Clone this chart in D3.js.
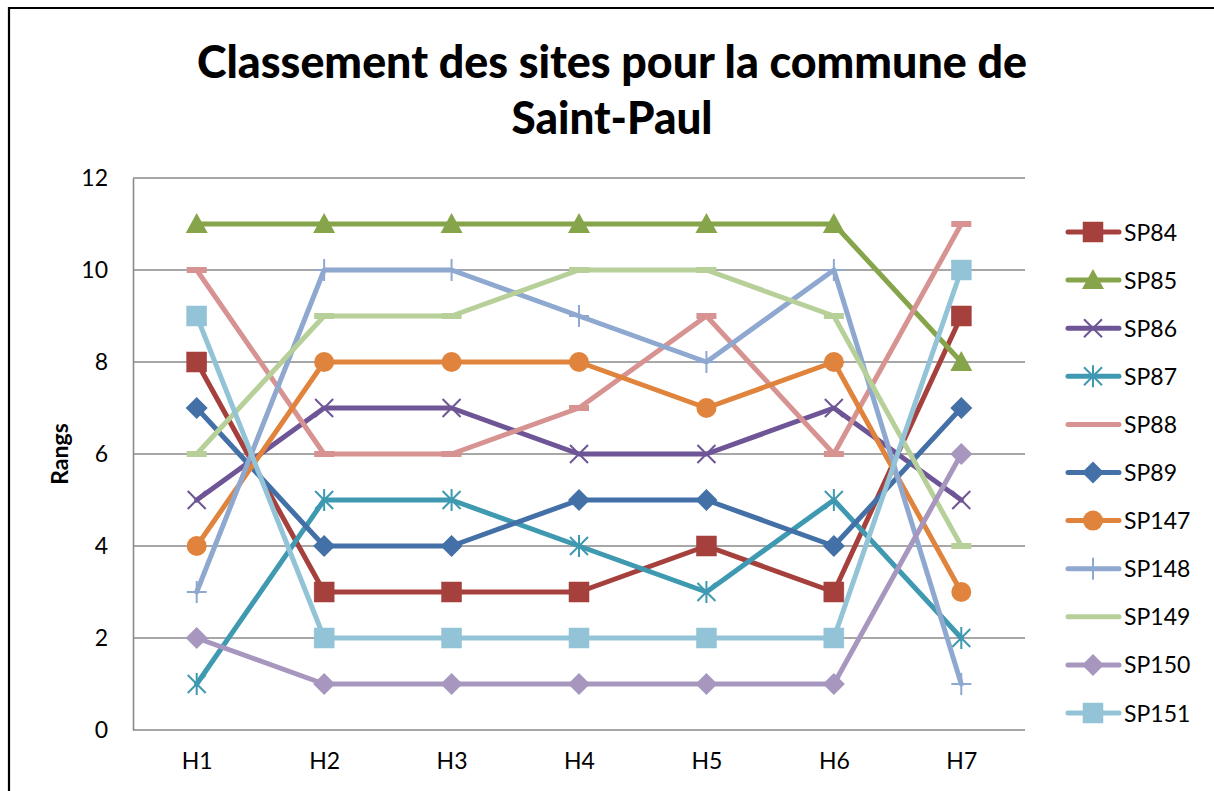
<!DOCTYPE html>
<html>
<head>
<meta charset="utf-8">
<script src="https://cdn.jsdelivr.net/npm/d3@7"></script>
<style>
  html, body { margin: 0; padding: 0; background: #fff; }
  svg { display: block; }
  text { font-family: Lato, "Open Sans", "Noto Sans", sans-serif; fill: #000; }
</style>
</head>
<body>
<svg id="chart" width="1214" height="791"></svg>
<script>
// Hours (categories)
const hours = ["H1", "H2", "H3", "H4", "H5", "H6", "H7"];

// Site names
const sites = ["SP84", "SP85", "SP86", "SP87", "SP88", "SP89", "SP147", "SP148", "SP149", "SP150", "SP151"];

// Rank of each site for every hour
const sp84  = [8, 3, 3, 3, 4, 3, 9];
const sp85  = [11, 11, 11, 11, 11, 11, 8];
const sp86  = [5, 7, 7, 6, 6, 7, 5];
const sp87  = [1, 5, 5, 4, 3, 5, 2];
const sp88  = [10, 6, 6, 7, 9, 6, 11];
const sp89  = [7, 4, 4, 5, 5, 4, 7];
const sp147 = [4, 8, 8, 8, 7, 8, 3];
const sp148 = [3, 10, 10, 9, 8, 10, 1];
const sp149 = [6, 9, 9, 10, 10, 9, 4];
const sp150 = [2, 1, 1, 1, 1, 1, 6];
const sp151 = [9, 2, 2, 2, 2, 2, 10];

// Y axis tick values
const yTicks = [0, 2, 4, 6, 8, 10, 12];

const values = [sp84, sp85, sp86, sp87, sp88, sp89, sp147, sp148, sp149, sp150, sp151];
const colors = ["#A5403D", "#86A44A", "#6E5596", "#3E99B1", "#D69391", "#4470A8",
                "#E0843D", "#8EA8D0", "#B7D09A", "#A797BF", "#92C3D6"];
const markers = ["square", "triangle", "x", "asterisk", "dash", "diamond",
                 "circle", "plus", "dash", "diamond", "square"];

const series = sites.map((name, i) => ({
  name, color: colors[i], marker: markers[i],
  points: values[i].map((v, j) => ({ hour: hours[j], value: v }))
}));

const svg = d3.select("#chart");

// Outer frame (left and top edges visible)
svg.append("path")
  .attr("d", "M9,791 V8 H1214")
  .attr("fill", "none").attr("stroke", "#000").attr("stroke-width", 2.2);

// Title
const title = svg.append("g").attr("font-weight", 900);
title.append("text")
  .attr("x", 612).attr("y", 78).attr("text-anchor", "middle")
  .attr("font-size", 46)
  .attr("textLength", 830).attr("lengthAdjust", "spacingAndGlyphs")
  .text("Classement des sites pour la commune de");
title.append("text")
  .attr("x", 612).attr("y", 134).attr("text-anchor", "middle")
  .attr("font-size", 46)
  .attr("textLength", 201).attr("lengthAdjust", "spacingAndGlyphs")
  .text("Saint-Paul");

// Plot area
const plotLeft = 133, plotRight = 1025, plotTop = 178, plotBottom = 730;

const x = d3.scalePoint().domain(hours).range([plotLeft, plotRight]).padding(0.5);
const y = d3.scaleLinear().domain([0, 12]).range([plotBottom, plotTop]);

// Horizontal grid lines
svg.append("g")
  .selectAll("line")
  .data(yTicks.filter(t => t > 0))
  .join("line")
  .attr("x1", plotLeft).attr("x2", plotRight)
  .attr("y1", d => y(d)).attr("y2", d => y(d))
  .attr("stroke", "#8A8A8A").attr("stroke-width", 1.6);

// Y axis
const yAxis = svg.append("g")
  .attr("transform", `translate(${plotLeft},0)`)
  .call(d3.axisLeft(y).tickValues(yTicks).tickSize(0).tickPadding(25).tickFormat(d3.format("d")));
yAxis.select(".domain").attr("stroke", "#8A8A8A").attr("stroke-width", 1.6);
yAxis.selectAll("text").attr("font-size", 23).attr("font-family", "Lato, 'Open Sans', sans-serif");

// X axis
const xAxis = svg.append("g")
  .attr("transform", `translate(0,${plotBottom})`)
  .call(d3.axisBottom(x).tickSize(0).tickPadding(23));
xAxis.select(".domain").attr("stroke", "#8A8A8A").attr("stroke-width", 1.6)
  .attr("d", `M${plotLeft},0H${plotRight}`);
xAxis.selectAll("text").attr("font-size", 23).attr("font-family", "Lato, 'Open Sans', sans-serif");

// Y axis title
svg.append("text")
  .attr("transform", `translate(68,${(plotTop + plotBottom) / 2}) rotate(-90)`)
  .attr("text-anchor", "middle")
  .attr("font-size", 23).attr("font-weight", "bold")
  .text("Rangs");

// Marker drawing
function drawMarker(g, type, color, cx, cy) {
  const s = 10;
  switch (type) {
    case "square":
      g.append("rect").attr("x", cx - s).attr("y", cy - s).attr("width", 2 * s).attr("height", 2 * s)
        .attr("fill", color).attr("stroke", color).attr("stroke-width", 0.5);
      break;
    case "triangle":
      g.append("path").attr("d", `M${cx},${cy - 11} L${cx + 11},${cy + 9} L${cx - 11},${cy + 9} Z`)
        .attr("fill", color);
      break;
    case "diamond":
      g.append("path").attr("d", `M${cx},${cy - 11} L${cx + 11},${cy} L${cx},${cy + 11} L${cx - 11},${cy} Z`)
        .attr("fill", color);
      break;
    case "circle":
      g.append("circle").attr("cx", cx).attr("cy", cy).attr("r", 10).attr("fill", color);
      break;
    case "x":
      g.append("path").attr("d", `M${cx - 9},${cy - 9} L${cx + 9},${cy + 9} M${cx + 9},${cy - 9} L${cx - 9},${cy + 9}`)
        .attr("stroke", color).attr("stroke-width", 2);
      break;
    case "asterisk":
      g.append("path").attr("d", `M${cx - 9},${cy - 9} L${cx + 9},${cy + 9} M${cx + 9},${cy - 9} L${cx - 9},${cy + 9} M${cx},${cy - 11} L${cx},${cy + 11}`)
        .attr("stroke", color).attr("stroke-width", 2);
      break;
    case "plus":
      g.append("path").attr("d", `M${cx},${cy - 11} L${cx},${cy + 11} M${cx - 10},${cy} L${cx + 10},${cy}`)
        .attr("stroke", color).attr("stroke-width", 2);
      break;
    case "dash":
      g.append("rect").attr("x", cx - 10).attr("y", cy - 3).attr("width", 20).attr("height", 6)
        .attr("fill", color);
      break;
  }
}

// Series lines and markers
const line = d3.line().x(d => x(d.hour)).y(d => y(d.value));
series.forEach(s => {
  const g = svg.append("g");
  g.append("path").datum(s.points)
    .attr("d", line)
    .attr("fill", "none").attr("stroke", s.color)
    .attr("stroke-width", 5).attr("stroke-linejoin", "round").attr("stroke-linecap", "round");
  s.points.forEach(p => drawMarker(g, s.marker, s.color, x(p.hour), y(p.value)));
});

// Legend
const legend = svg.append("g");
series.forEach((s, i) => {
  const ly = 232 + i * 48.1;
  const g = legend.append("g");
  g.append("line").attr("x1", 1068).attr("x2", 1119).attr("y1", ly).attr("y2", ly)
    .attr("stroke", s.color).attr("stroke-width", 5).attr("stroke-linecap", "round");
  if (s.marker !== "dash") drawMarker(g, s.marker, s.color, 1093, ly);
  g.append("text").attr("x", 1124).attr("y", ly + 8.5)
    .attr("font-size", 23).text(s.name);
});
</script>
</body>
</html>
